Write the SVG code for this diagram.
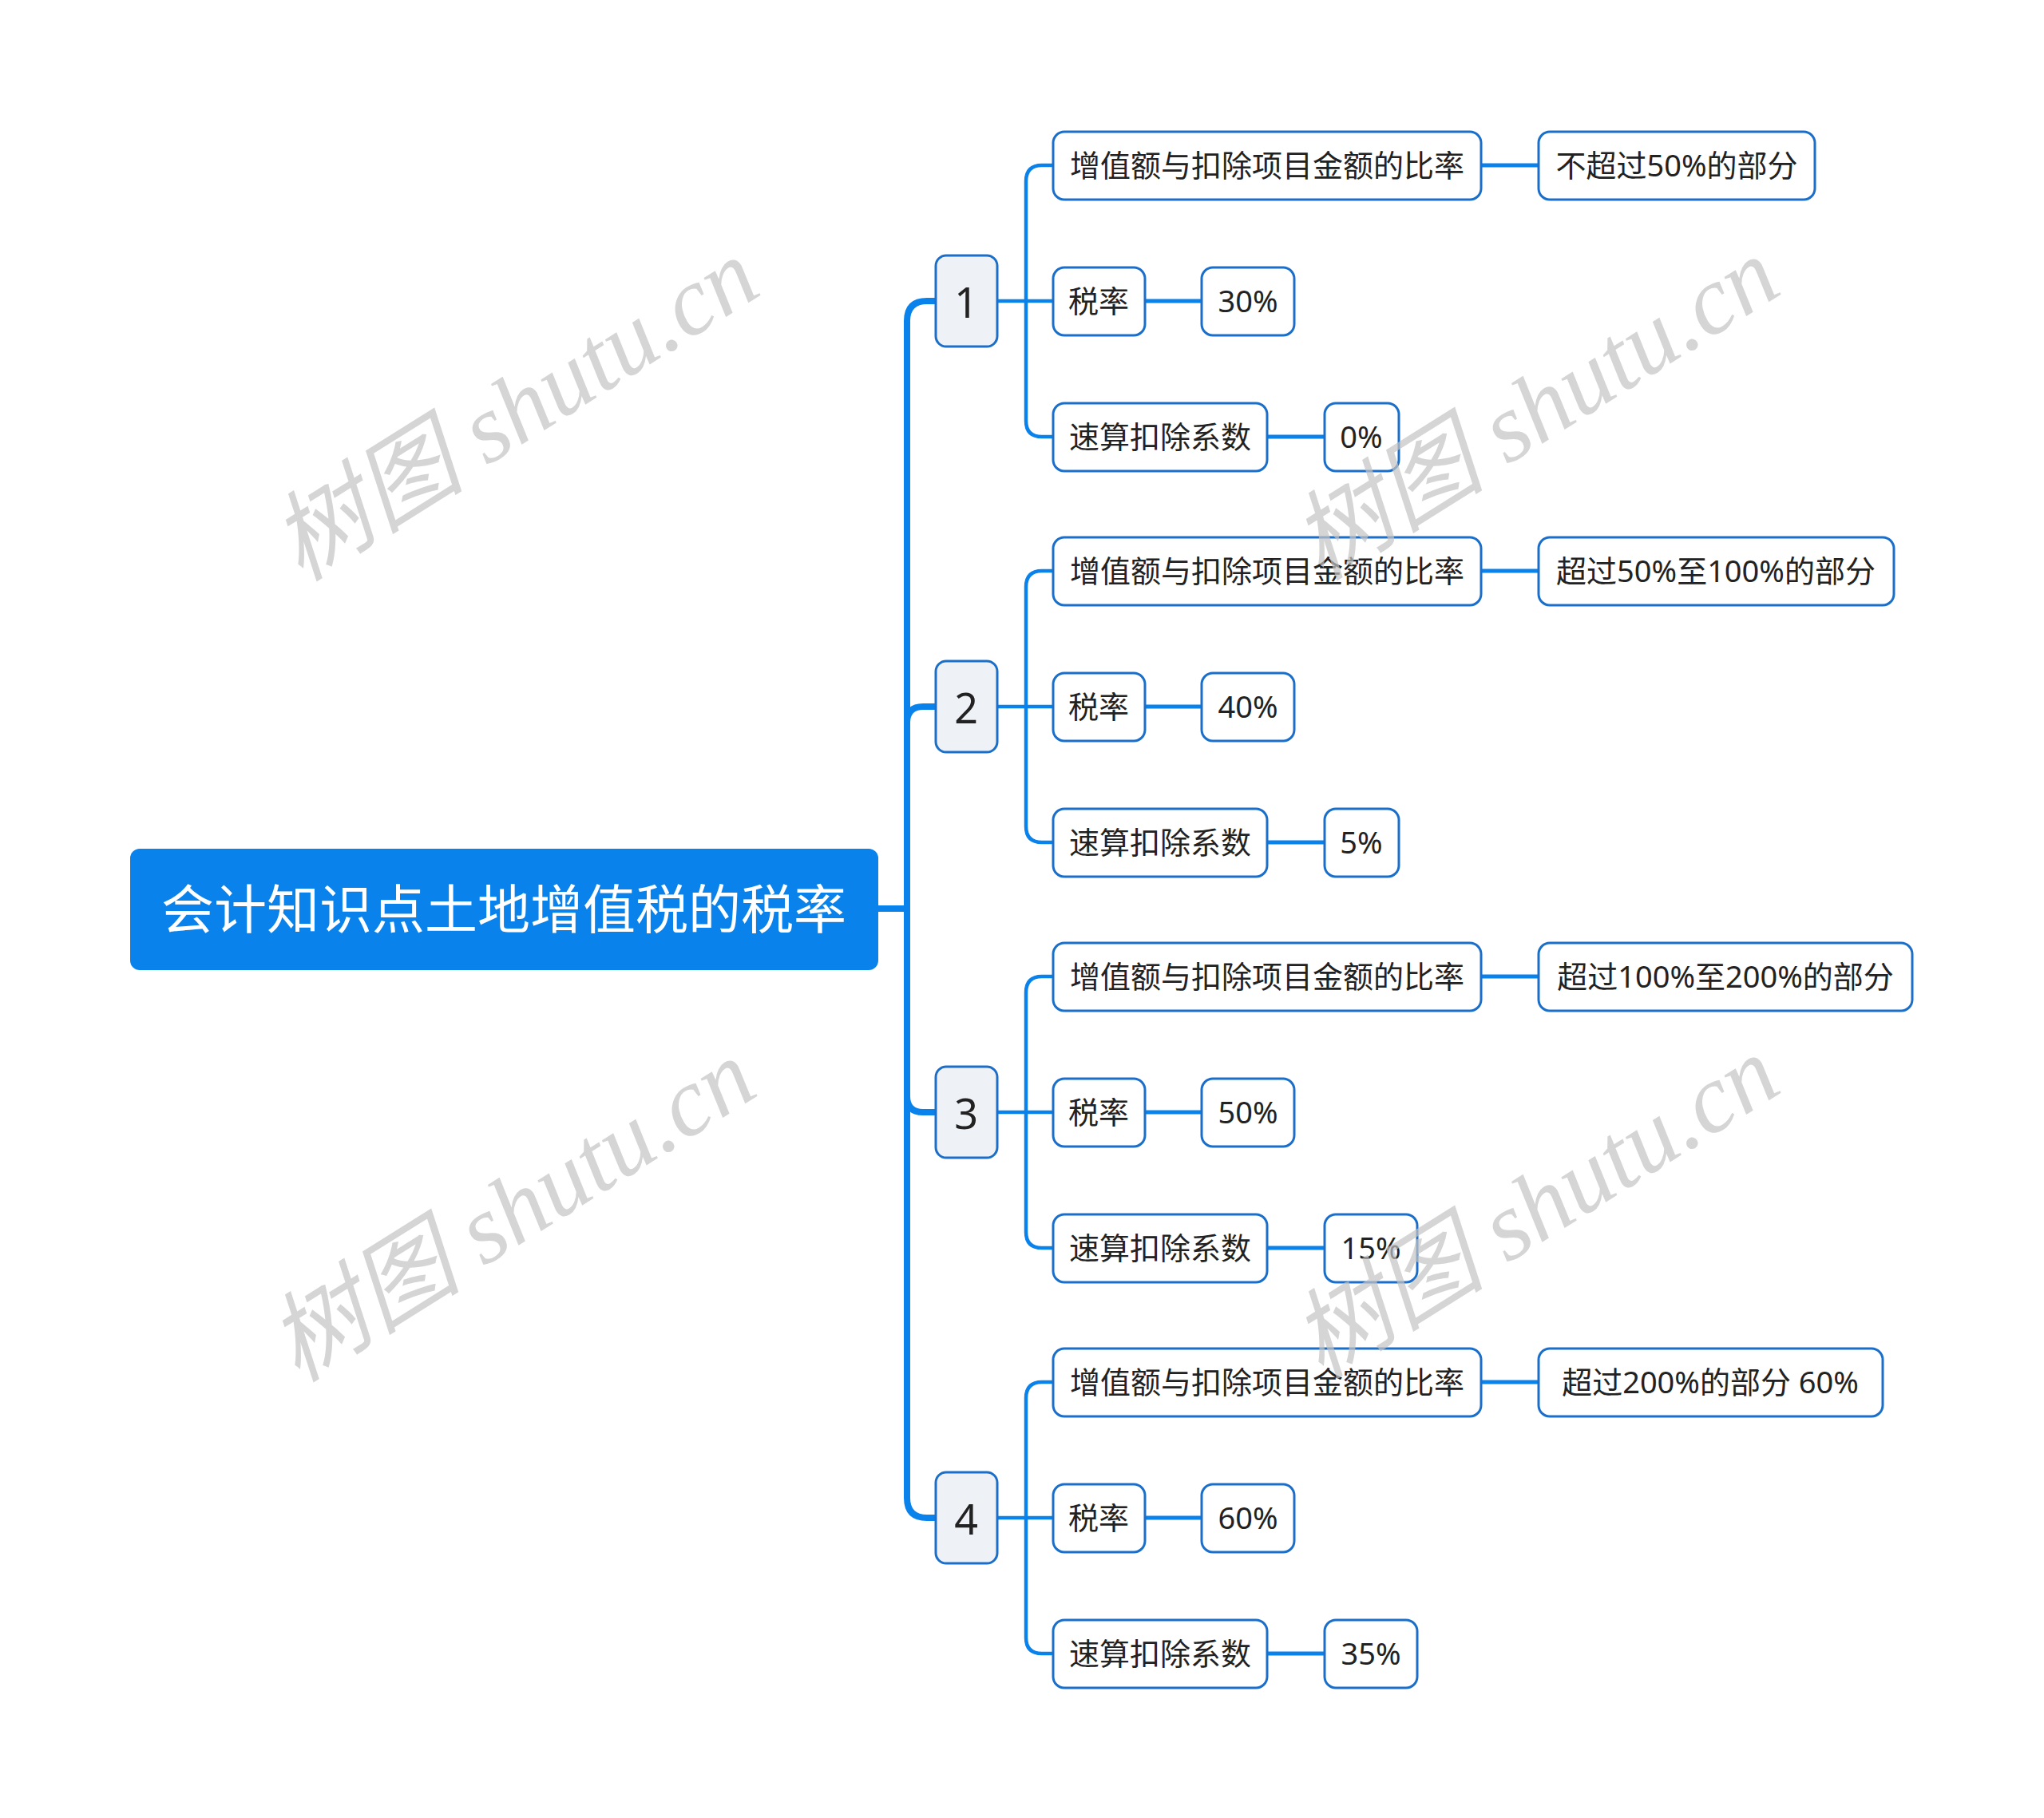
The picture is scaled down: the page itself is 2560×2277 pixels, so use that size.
<svg xmlns="http://www.w3.org/2000/svg" width="2560" height="2277" viewBox="0 0 2560 2277">
<style>
.c{fill:none;stroke:#0A82EC;stroke-linejoin:round}
.t{stroke-width:8}
.s{stroke-width:4.5}
.v{stroke-width:5}
.box{fill:#fff;stroke:#1C6FC9;stroke-width:3}
.num{fill:#EEF2F6;stroke:#1C6FC9;stroke-width:3}
.tx{font-family:"Noto Sans","Noto Sans CJK SC",sans-serif;font-size:38px;fill:#222;text-anchor:middle;dominant-baseline:central}
.nt{font-family:"Noto Sans","Noto Sans CJK SC",sans-serif;font-size:52px;fill:#222;text-anchor:middle;dominant-baseline:central}
.rt{font-family:"Noto Sans","Noto Sans CJK SC",sans-serif;font-size:66px;fill:#fff;text-anchor:middle;dominant-baseline:central}
.wm{font-family:"Liberation Serif","Noto Sans CJK SC",serif;font-style:italic;font-size:122px;fill:#c4c4c4;opacity:0.7;text-anchor:middle;dominant-baseline:central}
</style>
<rect width="2560" height="2277" fill="#fff"/>
<g id="connectors">
<path class="c t" d="M1100 1138H1136V402Q1136 377 1161 377H1172"/>
<path class="c t" d="M1100 1138H1136V905Q1136 885 1156 885H1172"/>
<path class="c t" d="M1100 1138H1136V1373Q1136 1393 1156 1393H1172"/>
<path class="c t" d="M1100 1138H1136V1876Q1136 1901 1161 1901H1172"/>
<path class="c s" d="M1249 377H1285V227Q1285 207 1305 207H1319M1249 377H1319M1249 377H1285V527Q1285 547 1305 547H1319"/>
<path class="c s" d="M1249 885H1285V735Q1285 715 1305 715H1319M1249 885H1319M1249 885H1285V1035Q1285 1055 1305 1055H1319"/>
<path class="c s" d="M1249 1393H1285V1243Q1285 1223 1305 1223H1319M1249 1393H1319M1249 1393H1285V1543Q1285 1563 1305 1563H1319"/>
<path class="c s" d="M1249 1901H1285V1751Q1285 1731 1305 1731H1319M1249 1901H1319M1249 1901H1285V2051Q1285 2071 1305 2071H1319"/>
<path class="c v" d="M1855 207H1927M1434 377H1505M1587 547H1659"/>
<path class="c v" d="M1855 715H1927M1434 885H1505M1587 1055H1659"/>
<path class="c v" d="M1855 1223H1927M1434 1393H1505M1587 1563H1659"/>
<path class="c v" d="M1855 1731H1927M1434 1901H1505M1587 2071H1659"/>
</g>
<g id="root"><rect x="163" y="1063" width="937" height="152" rx="12" fill="#0A82EC"/><text class="rt" x="631" y="1137">会计知识点土地增值税的税率</text></g>

<g id="n1"><rect class="num" x="1172" y="320" width="77" height="114" rx="13"/><text class="nt" x="1210" y="377">1</text></g>
<g id="n1a"><rect class="box" x="1319" y="165" width="536" height="85" rx="14"/><text class="tx" x="1587" y="206">增值额与扣除项目金额的比率</text></g>
<g id="n1a1"><rect class="box" x="1927" y="165" width="346" height="85" rx="14"/><text class="tx" x="2100" y="206">不超过50%的部分</text></g>
<g id="n1b"><rect class="box" x="1319" y="335" width="115" height="85" rx="14"/><text class="tx" x="1376" y="376">税率</text></g>
<g id="n1b1"><rect class="box" x="1505" y="335" width="116" height="85" rx="14"/><text class="tx" x="1563" y="376">30%</text></g>
<g id="n1c"><rect class="box" x="1319" y="505" width="268" height="85" rx="14"/><text class="tx" x="1453" y="546">速算扣除系数</text></g>
<g id="n1c1"><rect class="box" x="1659" y="505" width="93" height="85" rx="14"/><text class="tx" x="1705" y="546">0%</text></g>

<g id="n2"><rect class="num" x="1172" y="828" width="77" height="114" rx="13"/><text class="nt" x="1210" y="885">2</text></g>
<g id="n2a"><rect class="box" x="1319" y="673" width="536" height="85" rx="14"/><text class="tx" x="1587" y="714">增值额与扣除项目金额的比率</text></g>
<g id="n2a1"><rect class="box" x="1927" y="673" width="445" height="85" rx="14"/><text class="tx" x="2149" y="714">超过50%至100%的部分</text></g>
<g id="n2b"><rect class="box" x="1319" y="843" width="115" height="85" rx="14"/><text class="tx" x="1376" y="884">税率</text></g>
<g id="n2b1"><rect class="box" x="1505" y="843" width="116" height="85" rx="14"/><text class="tx" x="1563" y="884">40%</text></g>
<g id="n2c"><rect class="box" x="1319" y="1013" width="268" height="85" rx="14"/><text class="tx" x="1453" y="1054">速算扣除系数</text></g>
<g id="n2c1"><rect class="box" x="1659" y="1013" width="93" height="85" rx="14"/><text class="tx" x="1705" y="1054">5%</text></g>

<g id="n3"><rect class="num" x="1172" y="1336" width="77" height="114" rx="13"/><text class="nt" x="1210" y="1393">3</text></g>
<g id="n3a"><rect class="box" x="1319" y="1181" width="536" height="85" rx="14"/><text class="tx" x="1587" y="1222">增值额与扣除项目金额的比率</text></g>
<g id="n3a1"><rect class="box" x="1927" y="1181" width="468" height="85" rx="14"/><text class="tx" x="2161" y="1222">超过100%至200%的部分</text></g>
<g id="n3b"><rect class="box" x="1319" y="1351" width="115" height="85" rx="14"/><text class="tx" x="1376" y="1392">税率</text></g>
<g id="n3b1"><rect class="box" x="1505" y="1351" width="116" height="85" rx="14"/><text class="tx" x="1563" y="1392">50%</text></g>
<g id="n3c"><rect class="box" x="1319" y="1521" width="268" height="85" rx="14"/><text class="tx" x="1453" y="1562">速算扣除系数</text></g>
<g id="n3c1"><rect class="box" x="1659" y="1521" width="116" height="85" rx="14"/><text class="tx" x="1717" y="1562">15%</text></g>

<g id="n4"><rect class="num" x="1172" y="1844" width="77" height="114" rx="13"/><text class="nt" x="1210" y="1901">4</text></g>
<g id="n4a"><rect class="box" x="1319" y="1689" width="536" height="85" rx="14"/><text class="tx" x="1587" y="1730">增值额与扣除项目金额的比率</text></g>
<g id="n4a1"><rect class="box" x="1927" y="1689" width="431" height="85" rx="14"/><text class="tx" x="2142" y="1730">超过200%的部分 60%</text></g>
<g id="n4b"><rect class="box" x="1319" y="1859" width="115" height="85" rx="14"/><text class="tx" x="1376" y="1900">税率</text></g>
<g id="n4b1"><rect class="box" x="1505" y="1859" width="116" height="85" rx="14"/><text class="tx" x="1563" y="1900">60%</text></g>
<g id="n4c"><rect class="box" x="1319" y="2029" width="268" height="85" rx="14"/><text class="tx" x="1453" y="2070">速算扣除系数</text></g>
<g id="n4c1"><rect class="box" x="1659" y="2029" width="116" height="85" rx="14"/><text class="tx" x="1717" y="2070">35%</text></g>

<g id="watermarks">
<text class="wm" transform="translate(645 513) rotate(-32)">树图 shutu.cn</text>
<text class="wm" transform="translate(1923 512) rotate(-32)">树图 shutu.cn</text>
<text class="wm" transform="translate(641 1516) rotate(-32)">树图 shutu.cn</text>
<text class="wm" transform="translate(1923 1512) rotate(-32)">树图 shutu.cn</text>
</g>
</svg>
